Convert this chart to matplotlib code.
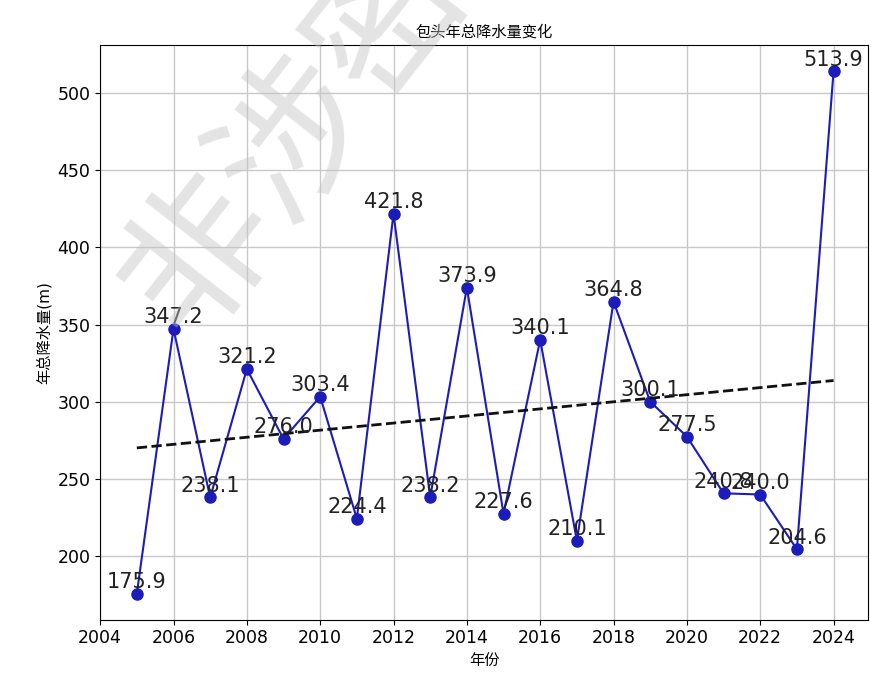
import numpy as np
import matplotlib
matplotlib.use('Agg')
import matplotlib.pyplot as plt

plt.rcParams['font.family'] = ['DejaVu Sans', 'Noto Sans CJK SC']
plt.rcParams['axes.unicode_minus'] = False

# 包头年总降水量
years = [2005, 2006, 2007, 2008, 2009, 2010, 2011, 2012, 2013, 2014,
         2015, 2016, 2017, 2018, 2019, 2020, 2021, 2022, 2023, 2024]
rain = [175.9, 347.2, 238.1, 321.2, 276.0, 303.4, 224.4, 421.8, 238.2, 373.9,
        227.6, 340.1, 210.1, 364.8, 300.1, 277.5, 240.8, 240.0, 204.6, 513.9]

fig = plt.figure(figsize=(8.71, 6.84), dpi=100)
ax = fig.add_axes([0.115, 0.094, 0.882, 0.84])

ax.plot(years, rain, color='#1c1cb8', marker='o', markersize=8, linewidth=1.5)

# 线性趋势
k, b = np.polyfit(years, rain, 1)
trend = np.polyval([k, b], years)
ax.plot(years, trend, color='#111111', linestyle='--', linewidth=2)

for x, y in zip(years, rain):
    ax.annotate(f'{y:.1f}', (x, y), textcoords='offset points', xytext=(0, 4),
                ha='center', fontsize=15, color='#222222')

ax.set_xticks(range(2004, 2025, 2))
ax.tick_params(labelsize=12.5)
ax.grid(True, color='#c8c8c8', linewidth=1)
ax.set_title('包头年总降水量变化', fontsize=11)
ax.set_xlabel('年份', fontsize=11)
ax.set_ylabel('年总降水量(m)', fontsize=11)

# 水印
fig.text(0.34, 0.8, '非涉密', fontsize=110, rotation=52, color='#c4c4c4',
         alpha=0.45, ha='center', va='center')

fig.savefig('out.png', dpi=100)
